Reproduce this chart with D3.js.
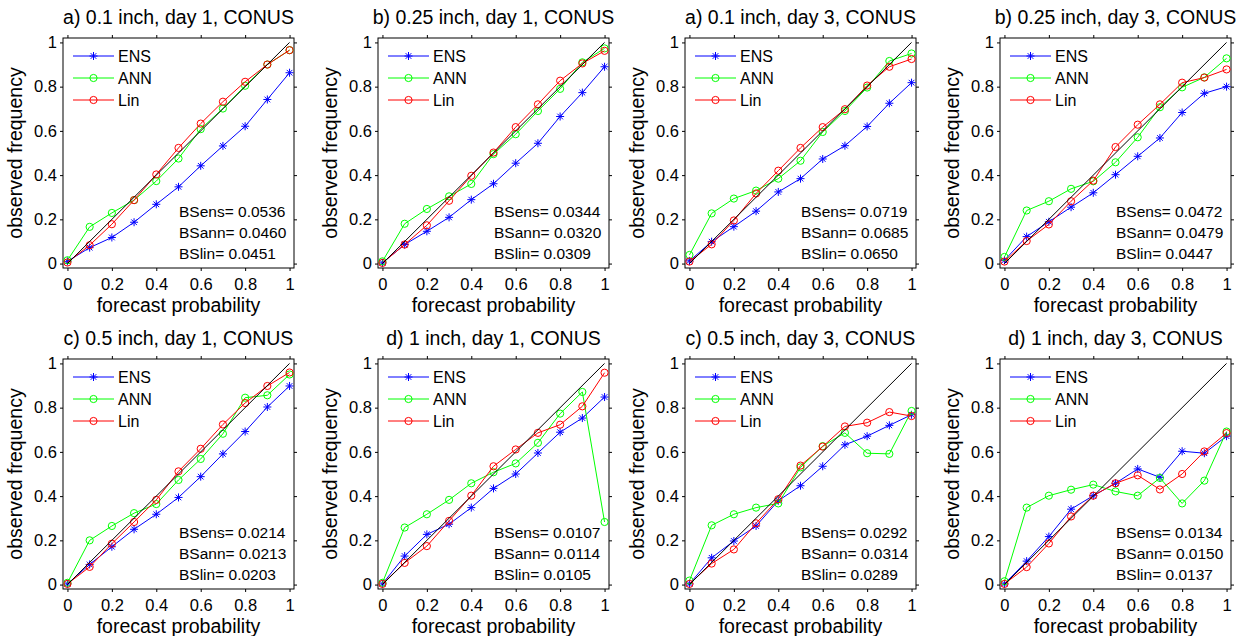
<!DOCTYPE html>
<html>
<head>
<meta charset="utf-8">
<script src="https://cdn.jsdelivr.net/npm/d3@7"></script>
<style>
  body { margin: 0; background: #fff; }
  text { font-family: Arial, "Liberation Sans", sans-serif; fill: #000; }
</style>
</head>
<body>
<div id="chart"></div>
<script>
// 预报概率（横轴取值）
const probs = [0, 0.1, 0.2, 0.3, 0.4, 0.5, 0.6, 0.7, 0.8, 0.9, 1];
const tickValues = [0, 0.2, 0.4, 0.6, 0.8, 1];
const tickLabels = ["0", "0.2", "0.4", "0.6", "0.8", "1"];

const panelTitles = [
    "a) 0.1 inch, day 1, CONUS", "b) 0.25 inch, day 1, CONUS",
    "a) 0.1 inch, day 3, CONUS", "b) 0.25 inch, day 3, CONUS",
    "c) 0.5 inch, day 1, CONUS", "d) 1 inch, day 1, CONUS",
    "c) 0.5 inch, day 3, CONUS", "d) 1 inch, day 3, CONUS"
];

const seriesNames = ["ENS", "ANN", "Lin"];

// 各面板的观测频率
const ensValues = [
    [0.01, 0.072, 0.118, 0.187, 0.268, 0.347, 0.442, 0.532, 0.621, 0.742, 0.863],
    [0.003, 0.086, 0.146, 0.209, 0.289, 0.361, 0.454, 0.544, 0.665, 0.773, 0.89],
    [0.012, 0.099, 0.167, 0.237, 0.324, 0.384, 0.473, 0.533, 0.62, 0.725, 0.818],
    [0.015, 0.122, 0.189, 0.255, 0.32, 0.402, 0.485, 0.568, 0.683, 0.77, 0.8],
    [0.003, 0.091, 0.171, 0.25, 0.318, 0.394, 0.488, 0.591, 0.692, 0.803, 0.898],
    [0.003, 0.129, 0.227, 0.273, 0.348, 0.435, 0.5, 0.595, 0.689, 0.753, 0.848],
    [0.003, 0.121, 0.197, 0.265, 0.379, 0.447, 0.535, 0.632, 0.671, 0.72, 0.768],
    [0.003, 0.106, 0.217, 0.341, 0.402, 0.458, 0.523, 0.485, 0.603, 0.594, 0.671]
];
const annValues = [
    [0.015, 0.166, 0.229, 0.287, 0.373, 0.475, 0.608, 0.701, 0.804, 0.9, 0.965],
    [0.01, 0.18, 0.247, 0.304, 0.36, 0.495, 0.585, 0.69, 0.79, 0.91, 0.973],
    [0.039, 0.227, 0.294, 0.33, 0.384, 0.465, 0.595, 0.69, 0.796, 0.916, 0.95],
    [0.03, 0.24, 0.282, 0.338, 0.372, 0.458, 0.571, 0.707, 0.797, 0.842, 0.928],
    [0.008, 0.2, 0.265, 0.323, 0.364, 0.473, 0.568, 0.682, 0.845, 0.856, 0.95],
    [0.008, 0.258, 0.318, 0.383, 0.458, 0.508, 0.548, 0.641, 0.773, 0.871, 0.283],
    [0.018, 0.268, 0.318, 0.348, 0.367, 0.53, 0.626, 0.686, 0.594, 0.591, 0.785],
    [0.015, 0.348, 0.402, 0.429, 0.452, 0.421, 0.402, 0.482, 0.367, 0.47, 0.692]
];
const linValues = [
    [0.005, 0.083, 0.178, 0.287, 0.403, 0.523, 0.633, 0.732, 0.822, 0.9, 0.965],
    [0.003, 0.086, 0.173, 0.284, 0.397, 0.502, 0.617, 0.72, 0.827, 0.905, 0.962],
    [0.009, 0.087, 0.195, 0.317, 0.42, 0.523, 0.617, 0.698, 0.805, 0.89, 0.925],
    [0.009, 0.102, 0.177, 0.282, 0.375, 0.527, 0.628, 0.72, 0.818, 0.841, 0.878],
    [0.003, 0.08, 0.185, 0.283, 0.383, 0.512, 0.614, 0.724, 0.821, 0.898, 0.959],
    [0.003, 0.098, 0.174, 0.288, 0.402, 0.535, 0.611, 0.686, 0.723, 0.806, 0.958],
    [0.003, 0.095, 0.159, 0.277, 0.386, 0.538, 0.624, 0.715, 0.732, 0.78, 0.762],
    [0.003, 0.079, 0.186, 0.308, 0.402, 0.458, 0.494, 0.43, 0.5, 0.602, 0.685]
];

// Brier 评分
const bsEns = ["0.0536", "0.0344", "0.0719", "0.0472", "0.0214", "0.0107", "0.0292", "0.0134"];
const bsAnn = ["0.0460", "0.0320", "0.0685", "0.0479", "0.0213", "0.0114", "0.0314", "0.0150"];
const bsLin = ["0.0451", "0.0309", "0.0650", "0.0447", "0.0203", "0.0105", "0.0289", "0.0137"];

const colors = {ENS: "#0000ff", ANN: "#00ff00", Lin: "#ff0000"};

// 面板位置
const panelLefts = [63, 378, 685, 1000];
const panelTops = [38, 359];
const boxW = 231, boxH = 230;

const svg = d3.select("#chart")
    .append("svg")
    .attr("width", 1247)
    .attr("height", 636);

const x = d3.scaleLinear().domain([-0.02, 1.02]).range([0, boxW]);
const y = d3.scaleLinear().domain([-0.02, 1.02]).range([boxH, 0]);

// 星号标记
function starPath(r) {
    const d = r * 0.707;
    return `M${-r},0L${r},0M0,${-r}L0,${r}M${-d},${-d}L${d},${d}M${-d},${d}L${d},${-d}`;
}

function drawMarker(g, name, cx, cy) {
    if (name === "ENS") {
        g.append("path")
            .attr("d", starPath(4))
            .attr("transform", `translate(${cx},${cy})`)
            .attr("stroke", colors[name])
            .attr("stroke-width", 1)
            .attr("fill", "none");
    } else {
        g.append("circle")
            .attr("cx", cx)
            .attr("cy", cy)
            .attr("r", 3.6)
            .attr("stroke", colors[name])
            .attr("stroke-width", 1)
            .attr("fill", "none");
    }
}

function drawPanel(i) {
    const left = panelLefts[i % 4];
    const top = panelTops[Math.floor(i / 4)];
    const g = svg.append("g").attr("transform", `translate(${left},${top})`);

    // 坐标框
    g.append("rect")
        .attr("width", boxW)
        .attr("height", boxH)
        .attr("fill", "none")
        .attr("stroke", "#000")
        .attr("stroke-width", 1);

    // 四周刻度（朝外）
    const bottom = g.append("g")
        .attr("transform", `translate(0,${boxH})`)
        .call(d3.axisBottom(x).tickValues(tickValues).tickSizeInner(3).tickSizeOuter(0)
            .tickFormat((d, k) => tickLabels[k]));
    bottom.selectAll("text").attr("y", 22).attr("dy", null).style("font-size", "16.5px");

    const leftAxis = g.append("g")
        .call(d3.axisLeft(y).tickValues(tickValues).tickSizeInner(3).tickSizeOuter(0)
            .tickFormat((d, k) => tickLabels[k]));
    leftAxis.selectAll("text").attr("x", -6).style("font-size", "16.5px");

    g.append("g").call(d3.axisTop(x).tickValues(tickValues).tickSizeInner(3).tickSizeOuter(0).tickFormat(""));
    g.append("g").attr("transform", `translate(${boxW},0)`)
        .call(d3.axisRight(y).tickValues(tickValues).tickSizeInner(3).tickSizeOuter(0).tickFormat(""));

    g.selectAll(".domain").remove();
    g.selectAll(".tick line").attr("stroke", "#000");

    // 数据曲线
    const series = {ENS: ensValues[i], ANN: annValues[i], Lin: linValues[i]};
    const line = d3.line().x((d, k) => x(probs[k])).y(d => y(d));
    seriesNames.forEach(name => {
        const vals = series[name];
        g.append("path")
            .datum(vals)
            .attr("fill", "none")
            .attr("stroke", colors[name])
            .attr("stroke-width", 1)
            .attr("d", line);
        vals.forEach((v, k) => drawMarker(g, name, x(probs[k]), y(v)));
    });

    // 对角线
    g.append("line")
        .attr("x1", x(0)).attr("y1", y(0))
        .attr("x2", x(1)).attr("y2", y(1))
        .attr("stroke", "#000")
        .attr("stroke-width", 1);

    // 图例
    seriesNames.forEach((name, k) => {
        const ly = 18 + k * 22;
        g.append("line")
            .attr("x1", 10).attr("x2", 51)
            .attr("y1", ly).attr("y2", ly)
            .attr("stroke", colors[name])
            .attr("stroke-width", 1);
        drawMarker(g, name, 30.5, ly);
        g.append("text")
            .attr("x", 55)
            .attr("y", ly + 6)
            .style("font-size", "16px")
            .text(name);
    });

    // Brier 评分文字
    const bsText = [`BSens= ${bsEns[i]}`, `BSann= ${bsAnn[i]}`, `BSlin= ${bsLin[i]}`];
    bsText.forEach((t, k) => {
        g.append("text")
            .attr("x", 116)
            .attr("y", 178.5 + k * 21)
            .style("font-size", "15.5px")
            .text(t);
    });

    // 标题和轴标题
    g.append("text")
        .attr("x", boxW / 2)
        .attr("y", -14)
        .attr("text-anchor", "middle")
        .style("font-size", "19.5px")
        .text(panelTitles[i]);

    g.append("text")
        .attr("x", boxW / 2)
        .attr("y", boxH + 44)
        .attr("text-anchor", "middle")
        .style("font-size", "19.5px")
        .text("forecast probability");

    g.append("text")
        .attr("transform", "rotate(-90)")
        .attr("x", -(y(0) + y(1)) / 2)
        .attr("y", -41.5)
        .attr("text-anchor", "middle")
        .style("font-size", "19.5px")
        .text("observed frequency");
}

for (let i = 0; i < 8; i++) drawPanel(i);
</script>
</body>
</html>
